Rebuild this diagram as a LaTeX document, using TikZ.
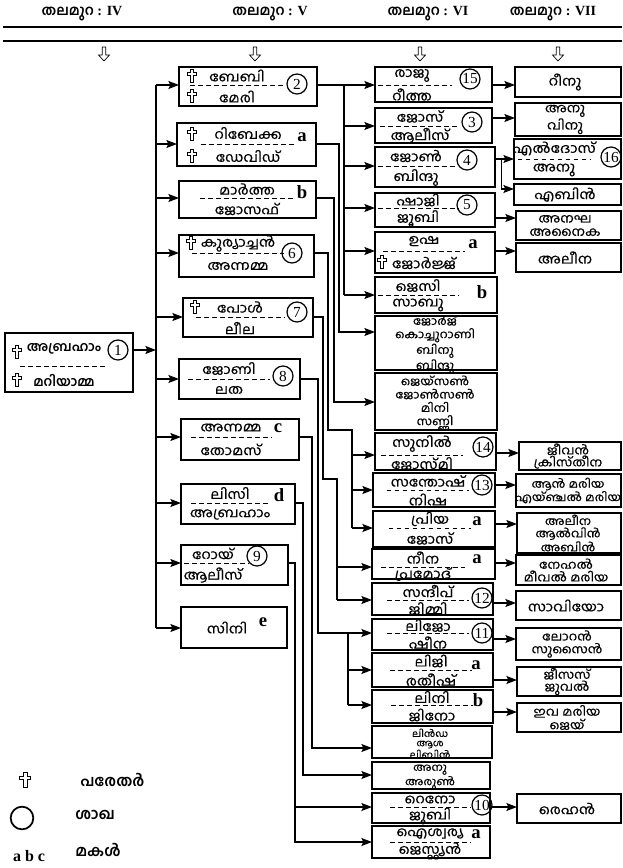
\documentclass[tikz,border=0pt]{standalone}
\usepackage{fontspec}
\setmainfont{Liberation Serif}
\newfontfamily\ml[Script=Malayalam, FakeStretch=1.12, FakeBold=0.5]{Hind Kochi}
\newfontfamily\mlh[Script=Malayalam]{Hind Kochi}
\usetikzlibrary{arrows.meta, calc}

\tikzset{
  fam/.style={draw, line width=0.9pt, inner sep=0pt},
  nm/.style={font=\ml\fontsize{10}{11}\selectfont, inner sep=0pt},
  head/.style={font=\bfseries\fontsize{10.5}{12}\selectfont, inner sep=0pt},
  legend/.style={font=\mlh\bfseries\fontsize{11.5}{13}\selectfont, inner sep=0pt, anchor=west},
  sep/.style={line width=0.5pt, dash pattern=on 3.6pt off 2.4pt},
  link/.style={line width=0.9pt},
  arr/.style={link, -{Stealth[length=8pt, width=6pt, inset=1.5pt]}},
  branch/.style={circle, draw, line width=0.9pt, minimum size=15pt, inner sep=0pt, font=\fontsize{11.5}{12}\selectfont},
  daughter/.style={inner sep=0pt, font=\bfseries\fontsize{14}{14}\selectfont},
  dead/.pic={\draw[line width=0.5pt, fill=white] (-1.6,-6.5) -- (1.6,-6.5) -- (1.6,-3.6) -- (4.6,-3.6) -- (4.6,-0.6) -- (1.6,-0.6) -- (1.6,6.5) -- (-1.6,6.5) -- (-1.6,-0.6) -- (-4.6,-0.6) -- (-4.6,-3.6) -- (-1.6,-3.6) -- cycle;},
  gen/.pic={\draw[line width=0.5pt] (-1.8,0) -- (-1.8,8) -- (-5.5,8) -- (0,14) -- (5.5,8) -- (1.8,8) -- (1.8,0) -- cycle;}
}

% couple box: name, x1, y1, x2, y2, dash y, text x, upper, lower
\newcommand\couple[9]{%
  \node[fam, minimum width={(#4-#2)*0.75pt}, minimum height={(#5-#3)*0.75pt}] (#1) at ({(#2+#4)/2},{(#3+#5)/2}) {};
  \draw[sep] ({max(#2+3,#7-0.34*(#4-#2))},#6) -- ({#7+0.34*(#4-#2)},#6);
  \node[nm] (#1-up) at (#7,{(#3+#6)/2-0.5}) {#8};
  \node[nm] (#1-dn) at (#7,{(#6+#5)/2+1}) {#9};
  \coordinate (#1-in) at (#2,#6);
  \coordinate (#1-out) at (#4,#6);
}
% plain box: [text options] name, x1, y1, x2, y2, in y, text x, lines
\newcommand\family[9][]{%
  \node[fam, minimum width={(#5-#3)*0.75pt}, minimum height={(#6-#4)*0.75pt}] (#2) at ({(#3+#5)/2},{(#4+#6)/2}) {};
  \node[nm, align=center, #1] (#2-txt) at (#8,{(#4+#6)/2}) {#9};
  \coordinate (#2-in) at (#3,#7);
  \coordinate (#2-out) at (#5,#7);
}

\begin{document}
\begin{tikzpicture}[x=0.75pt, y=-0.75pt]
\useasboundingbox (0,0) rectangle (622,868);

% generations
\node[head] (h4) at (82,14) {{\mlh തലമുറ} : IV};
\node[head] (h5) at (270,14) {{\mlh തലമുറ} : V};
\node[head] (h6) at (428,14) {{\mlh തലമുറ} : VI};
\node[head] (h7) at (553,14) {{\mlh തലമുറ} : VII};
\draw[line width=1.3pt] (3,27) -- (622,27);
\draw[line width=1.3pt] (3,41) -- (622,41);
\foreach \x in {104,255,420,558} \pic at (\x,47) {gen};

% generation IV
\couple{ab}{5}{333}{133}{392}{366}{64}{\mlh\fontsize{10}{12}\selectfont\bfseries അബ്രഹാം}{\mlh\fontsize{10}{12}\selectfont\bfseries മറിയാമ്മ}
\pic at (17,352) {dead};
\pic at (17,380) {dead};
\node[branch] (b1) at (118,350) {1};

% generation V
\couple{v2}{179}{67}{317}{106}{85}{237}{ബേബി}{മേരി}
\couple{va}{177}{123}{316}{166}{144}{248}{റിബേക്ക}{ഡേവിഡ്}
\couple{vb}{179}{181}{316}{218}{198}{247}{മാർത്ത}{ജോസഫ്}
\couple{v6}{179}{235}{314}{277}{253}{238}{കുര്യാച്ചൻ}{അന്നമ്മ}
\couple{v7}{183}{298}{313}{337}{317}{240}{പോൾ}{ലീല}
\couple{v8}{179}{359}{300}{399}{379}{229}{ജോണി}{ലത}
\couple{vc}{181}{419}{299}{460}{437}{231}{അന്നമ്മ}{തോമസ്}
\couple{vd}{181}{484}{295}{524}{503}{230}{ലിസി}{അബ്രഹാം}
\couple{v9}{181}{545}{288}{585}{563}{213}{റോയ്}{ആലീസ്}
\family{ve}{181}{607}{287}{648}{628}{227}{സിനി}
\pic at (192,76) {dead};
\pic at (192,96) {dead};
\pic at (192,134) {dead};
\pic at (192,156) {dead};
\pic at (191,243) {dead};
\pic at (195,307) {dead};
\node[branch] (b2) at (297,84) {2};
\node[branch] (b6) at (292,253) {6};
\node[branch] (b7) at (297,312) {7};
\node[branch] (b8) at (283,376) {8};
\node[branch] (b9) at (257,556) {9};
\node[daughter] (va-l) at (302,137) {a};
\node[daughter] (vb-l) at (302,192) {b};
\node[daughter] (vc-l) at (278,428) {c};
\node[daughter] (vd-l) at (279,495) {d};
\node[daughter] (ve-l) at (263,622) {e};

% generation VI
\couple{w15}{375}{67}{492}{102}{85}{412}{രാജു}{റീത്ത}
\couple{w3}{375}{108}{492}{143}{126}{420}{ജോസ്}{ആലീസ്}
\couple{w4}{375}{147}{495}{187}{166}{416}{ജോൺ}{ബിന്ദു}
\couple{w5}{375}{193}{495}{227}{208}{418}{ഷാജി}{ജൂബി}
\couple{wu}{375}{232}{495}{273}{251}{424}{ഉഷ}{ജോർജ്ജ്}
\couple{wj}{375}{277}{497}{313}{295}{418}{ജെസി}{സാബു}
\family[font=\ml\fontsize{8.5}{10}\selectfont, yshift=-1pt]{wg}{375}{316}{497}{370}{332}{435}{ജോർജ്\\കൊച്ചുറാണി\\ബിനു\\ബിന്ദു}
\family[font=\ml\fontsize{8.5}{10}\selectfont, yshift=-1pt]{wy}{375}{373}{497}{430}{402}{435}{ജെയ്സൺ\\ജോൺസൺ\\മിനി\\സണ്ണി}
\couple{w14}{375}{433}{496}{470}{455}{422}{സുനിൽ}{ജോസ്മി}
\couple{w13}{373}{473}{495}{507}{490}{428}{സന്തോഷ്}{നിഷ}
\couple{wp}{373}{511}{495}{547}{528}{430}{പ്രിയ}{ജോസ്}
\couple{wn}{372}{549}{495}{579}{567}{423}{നീന}{പ്രമോദ്}
\couple{w12}{372}{583}{493}{615}{600}{428}{സന്ദീപ്}{ജിമ്മി}
\couple{w11}{372}{619}{493}{650}{633}{428}{ലിജോ}{ഷീന}
\couple{wl}{372}{653}{493}{687}{670}{431}{ലിജി}{രതീഷ്}
\couple{wi}{372}{690}{493}{723}{705}{432}{ലിനി}{ജിനോ}
\family[font=\ml\fontsize{7}{7}\selectfont, yshift=-1pt]{wd}{372}{726}{492}{758}{748}{430}{ലിൻഡ\\ആശ\\ലിബിൻ}
\family[font=\ml\fontsize{8}{8}\selectfont, yshift=-1pt]{wa}{372}{762}{490}{789}{775}{430}{അനു\\അരുൺ}
\couple{w10}{372}{793}{490}{823}{807}{430}{റെനോ}{ജൂബി}
\couple{wz}{372}{826}{490}{858}{842}{430}{ഐശ്വര്യ}{ജെസ്റ്റ്യൻ}
\pic at (382,262) {dead};
\node[branch] (b15) at (470,79) {15};
\node[branch] (b3) at (472,122) {3};
\node[branch] (b4) at (467,160) {4};
\node[branch] (b5) at (467,205) {5};
\node[branch] (b14) at (483,447) {14};
\node[branch] (b13) at (482,485) {13};
\node[branch] (b12) at (482,598) {12};
\node[branch] (b11) at (482,633) {11};
\node[branch] (b10) at (482,805) {10};
\node[daughter] (wu-l) at (473,244) {a};
\node[daughter] (wj-l) at (482,292) {b};
\node[daughter] (wp-l) at (477,521) {a};
\node[daughter] (wn-l) at (477,559) {a};
\node[daughter] (wl-l) at (476,665) {a};
\node[daughter] (wi-l) at (478,700) {b};
\node[daughter] (wz-l) at (476,834) {a};

% generation VII
\family{x1}{515}{67}{621}{97}{85}{565}{റീനു}
\family[font=\ml\fontsize{9.5}{11}\selectfont]{x2}{515}{103}{621}{136}{118}{565}{അനു\\വിനു}
\couple{x16}{514}{139}{621}{179}{159}{554}{എൽദോസ്}{അനു}
\family{xe}{514}{184}{621}{205}{189}{565}{എബിൻ}
\family[font=\ml\fontsize{9.5}{10}\selectfont]{xa}{516}{211}{621}{240}{218}{565}{അനഘ\\അനൈക}
\family{xl}{516}{243}{621}{272}{251}{565}{അലീന}
\family[font=\ml\fontsize{9}{9}\selectfont]{xj}{519}{442}{621}{470}{453}{568}{ജീവൻ\\ക്രിസ്തീന}
\family[font=\ml\fontsize{8.5}{10}\selectfont]{xm}{516}{474}{621}{507}{485}{568}{ആൻ മരിയ\\എയ്ഞ്ചൽ മരിയ}
\family[font=\ml\fontsize{8.5}{9.3}\selectfont]{xb}{517}{513}{621}{553}{524}{568}{അലീന\\ആൽവിൻ\\അബിൻ}
\family[font=\ml\fontsize{9}{9.5}\selectfont]{xn}{516}{555}{621}{585}{563}{566}{നേഹൽ\\മീവൽ മരിയ}
\family{xs}{516}{591}{621}{620}{603}{566}{സാവിയോ}
\family[font=\ml\fontsize{9}{9.5}\selectfont]{xr}{516}{628}{621}{660}{639}{567}{ലോറൻ\\സുസൈൻ}
\family[font=\ml\fontsize{9}{9}\selectfont]{xz}{517}{667}{621}{696}{680}{567}{ജീസസ്\\ജുവൽ}
\family[font=\ml\fontsize{9}{9}\selectfont]{xi}{517}{703}{621}{732}{712}{567}{ഇവ മരിയ\\ജെയ്}
\family{xh}{517}{794}{621}{823}{807}{567}{രെഹൻ}
\node[branch] (b16) at (611,157) {16};

% IV -> V
\coordinate (t0) at (156,350);
\draw[arr] (ab.east |- t0) -- (t0);
\draw[link] (t0 |- v2-in) -- (t0 |- ve-in);
\foreach \b in {v2,va,vb,v6,v7,v8,vc,vd,v9,ve}
  \draw[arr] (t0 |- \b-in) -- (\b-in);

% V -> VI
\coordinate (k2) at (344,0);
\coordinate (ka) at (339,0);
\coordinate (kb) at (334,0);
\coordinate (k6) at (328,430);
\coordinate (m6) at (352,430);
\coordinate (k7) at (323,479);
\coordinate (m7) at (337,479);
\coordinate (k8) at (318,0);
\coordinate (m8) at (348,0);
\coordinate (kc) at (312,0);
\coordinate (kd) at (303,0);
\coordinate (k9) at (295,0);
\draw[arr] (v2-out) -- (w15-in);
\draw[link] (k2 |- v2-out) -- (k2 |- wj-in);
\foreach \w in {w3,w4,w5,wu,wj}
  \draw[arr] (k2 |- \w-in) -- (\w-in);
\draw[arr] (va-out) -| (ka |- wg-in) -- (wg-in);
\draw[arr] (vb-out) -| (kb |- wy-in) -- (wy-in);
\draw[link] (v6-out) -| (k6) -- (m6) -- (m6 |- wp-in);
\foreach \w in {w14,w13,wp}
  \draw[arr] (m6 |- \w-in) -- (\w-in);
\draw[link] (v7-out) -| (k7) -- (m7) -- (m7 |- w12-in);
\foreach \w in {wn,w12}
  \draw[arr] (m7 |- \w-in) -- (\w-in);
\draw[arr] (v8-out) -| (k8 |- w11-in) -- (w11-in);
\draw[link] (m8 |- w11-in) -- (m8 |- wi-in);
\foreach \w in {wl,wi}
  \draw[arr] (m8 |- \w-in) -- (\w-in);
\draw[arr] (vc-out) -| (kc |- wd-in) -- (wd-in);
\draw[arr] (vd-out) -| (kd |- wa-in) -- (wa-in);
\draw[arr] (v9-out) -| (k9 |- w10-in) -- (w10-in);
\draw[arr] (k9 |- w10-in) |- (wz-in);

% VI -> VII
\foreach \a/\b in {w15/x1,w3/x2,w4/x16,w5/xa,wu/xl,w14/xj,w13/xm,wp/xb,wn/xn,w12/xs,w11/xr,wl/xz,wi/xi,w10/xh}
  \draw[arr] (\a.east |- \b-in) -- (\b-in);
\coordinate (f4) at ($(w4.east |- x16-in)+(6,0)$);
\draw[arr] (f4) |- (xe-in);

% legend
\pic[scale=1.15] at (25,780) {dead};
\node[legend] (lg1) at (80,780) {പരേതർ};
\node[circle, draw, line width=1.3pt, minimum size=17pt] (lg2c) at (22,818) {};
\node[legend] (lg2) at (75,815) {ശാഖ};
\node[font=\bfseries\fontsize{12}{12}\selectfont, inner sep=0pt] (lg3c) at (29,856) {a b c};
\node[legend] (lg3) at (75,850) {മകൾ};
\end{tikzpicture}
\end{document}
